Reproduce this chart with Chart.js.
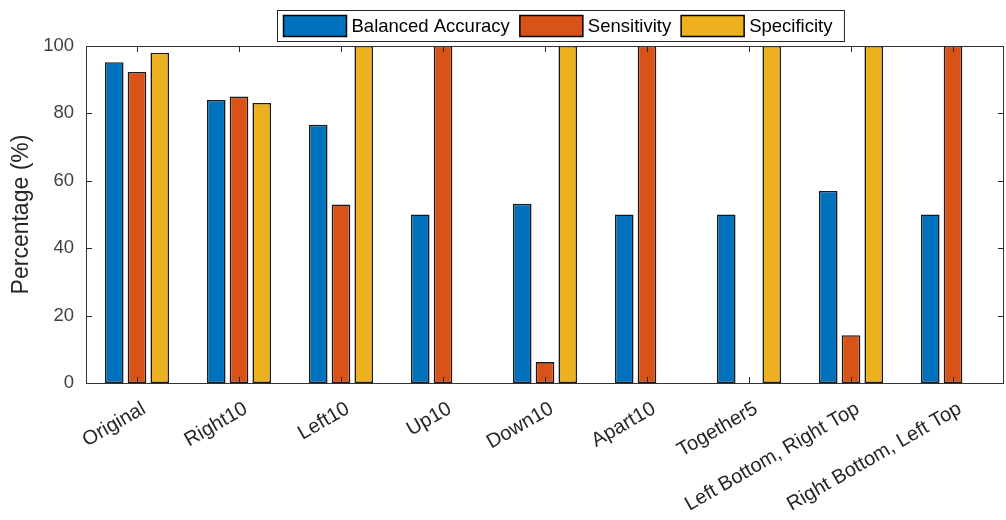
<!DOCTYPE html>
<html>
<head>
<meta charset="utf-8">
<script src="https://cdn.jsdelivr.net/npm/chart.js@4/dist/chart.umd.min.js"></script>
<style>
html,body{margin:0;padding:0;background:#fff;}
#wrap{width:1006px;height:520px;position:relative;}
</style>
</head>
<body>
<div id="wrap"><canvas id="c" width="1006" height="520"></canvas></div>
<script>
const categories = ["Original","Right10","Left10","Up10","Down10","Apart10","Together5","Left Bottom, Right Top","Right Bottom, Left Top"];
const balancedAccuracy = [95.2, 84.0, 76.6, 50.0, 53.2, 50.0, 50.0, 57.0, 50.0];
const sensitivity      = [92.3, 85.0, 53.0, 100, 6.2, 100, 0, 14.2, 100];
const specificity      = [98.0, 83.1, 100, 0, 100, 0, 100, 100, 0];
const yTicks = [0, 20, 40, 60, 80, 100];
const seriesNames = ["Balanced Accuracy","Sensitivity","Specificity"];
const seriesColors = ["#0072BD","#D95319","#EDB120"];

const FONT = "'Liberation Sans', Arial, Helvetica, sans-serif";
const AXIS = "#262626";

const matlabAxes = {
  id: 'matlabAxes',
  afterDatasetsDraw(chart) {
    const ctx = chart.ctx, a = chart.chartArea;
    const x = chart.scales.x, y = chart.scales.y;
    ctx.save();
    ctx.strokeStyle = AXIS;
    ctx.lineWidth = 1;
    ctx.beginPath();
    yTicks.forEach(v => {
      const py = Math.round(y.getPixelForValue(v)) + 0.5;
      ctx.moveTo(a.left, py); ctx.lineTo(a.left + 6, py);
      ctx.moveTo(a.right, py); ctx.lineTo(a.right - 6, py);
    });
    categories.forEach((c, i) => {
      const px = Math.round(x.getPixelForValue(i)) + 0.5;
      ctx.moveTo(px, a.bottom); ctx.lineTo(px, a.bottom - 6);
      ctx.moveTo(px, a.top); ctx.lineTo(px, a.top + 6);
    });
    ctx.stroke();
    ctx.strokeStyle = '#333';
    ctx.strokeRect(Math.round(a.left) + 0.5, Math.round(a.top) + 0.5, Math.round(a.right - a.left) - 1, Math.round(a.bottom - a.top));
    ctx.save();
    ctx.translate(22, (a.top + a.bottom) / 2);
    ctx.rotate(-Math.PI / 2);
    ctx.font = "23px " + FONT;
    ctx.fillStyle = '#262626';
    ctx.textAlign = 'center';
    ctx.textBaseline = 'middle';
    ctx.fillText(chart.options.plugins.matlabAxes.yTitle, 0, 0);
    ctx.restore();
    ctx.restore();
  },
  afterDraw(chart) {
    const ctx = chart.ctx;
    const ds = chart.data.datasets;
    ctx.save();
    ctx.font = "18.5px " + FONT;
    const boxL = 277.5, boxT = 10.5, boxH = 31, sw = 63, sh = 21;
    const items = ds.map(d => ({label: d.label, color: d.backgroundColor, w: ctx.measureText(d.label).width}));
    let total = 6;
    items.forEach((it, i) => { total += sw + 5 + it.w + (i < items.length - 1 ? 10 : 12); });
    ctx.fillStyle = '#fff';
    ctx.fillRect(boxL, boxT, total, boxH);
    ctx.strokeStyle = '#262626';
    ctx.lineWidth = 1;
    ctx.strokeRect(boxL, boxT, total, boxH);
    let xPos = boxL + 6;
    items.forEach(it => {
      const sy = boxT + (boxH - sh) / 2;
      ctx.fillStyle = it.color;
      ctx.fillRect(xPos, sy, sw, sh);
      ctx.lineWidth = 1.5;
      ctx.strokeStyle = '#000';
      ctx.strokeRect(xPos, sy, sw, sh);
      xPos += sw + 5;
      ctx.fillStyle = '#000';
      ctx.textBaseline = 'middle';
      ctx.fillText(it.label, xPos, boxT + boxH / 2 + 1);
      xPos += it.w + 10;
    });
    ctx.restore();
  }
};

new Chart(document.getElementById('c'), {
  type: 'bar',
  data: {
    labels: categories,
    datasets: [balancedAccuracy, sensitivity, specificity].map((d, i) => ({
      label: seriesNames[i],
      data: d,
      backgroundColor: seriesColors[i],
      borderColor: '#1a1a1a',
      borderWidth: 1.6,
      borderSkipped: false,
      categoryPercentage: 0.67,
      barPercentage: 0.82
    }))
  },
  options: {
    responsive: false,
    animation: false,
    devicePixelRatio: 1,
    layout: { padding: { top: 46, right: 2, left: 0, bottom: 0 } },
    plugins: { legend: { display: false }, tooltip: { enabled: false }, matlabAxes: { yTitle: 'Percentage (%)' } },
    scales: {
      x: {
        grid: { display: false, drawTicks: false },
        border: { display: false },
        ticks: {
          autoSkip: false,
          minRotation: 30, maxRotation: 30,
          padding: 14,
          labelOffset: 7,
          color: '#262626',
          font: { family: FONT, size: 20 }
        },
        afterFit(s) { s.height = 137; }
      },
      y: {
        min: 0, max: 100,
        afterBuildTicks(s) { s.ticks = yTicks.map(v => ({value: v})); },
        grid: { display: false, drawTicks: false },
        border: { display: false },
        ticks: {
          padding: 12,
          color: '#404040',
          font: { family: FONT, size: 18.5 }
        },
        afterFit(s) { s.width = 86; }
      }
    }
  },
  plugins: [matlabAxes]
});
</script>
</body>
</html>
